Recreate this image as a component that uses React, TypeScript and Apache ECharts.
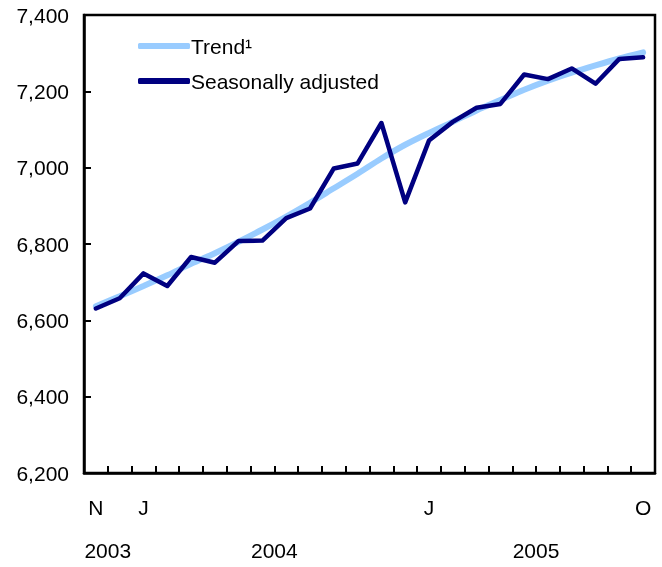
import React, { useEffect, useRef } from "react";
import * as echarts from "echarts";

const months = ["N", "D", "J", "F", "M", "A", "M", "J", "J", "A", "S", "O", "N", "D", "J", "F", "M", "A", "M", "J", "J", "A", "S", "O"];
const monthTickLabels = ["N", "", "J", "", "", "", "", "", "", "", "", "", "", "", "J", "", "", "", "", "", "", "", "", "O"];
const years = ["2003", "2004", "2005"];
const yearSpans = [[0, 1], [2, 13], [14, 23]];
const trend = [6637, 6663, 6690, 6718, 6748, 6776, 6806, 6838, 6872, 6908, 6946, 6984, 7024, 7060, 7091, 7120, 7150, 7177, 7204, 7228, 7249, 7268, 7286, 7302];
const seasonallyAdjusted = [6631, 6658, 6723, 6690, 6766, 6751, 6808, 6809, 6868, 6893, 6998, 7011, 7117, 6909, 7071, 7120, 7157, 7167, 7244, 7232, 7260, 7220, 7285, 7289];
const yTicks = { min: 6200, max: 7400, interval: 200 };

const FONT = "'Liberation Sans', Arial, sans-serif";
const FS = 21;

export default function App() {
  const ref = useRef<HTMLDivElement>(null);
  useEffect(() => {
    if (!ref.current) return;
    const chart = echarts.init(ref.current, null, { renderer: "svg" });
    chart.setOption({
      animation: false,
      textStyle: { fontFamily: FONT },
      grid: { left: 84, right: 7, top: 15, bottom: 94, show: true, borderColor: "#000", borderWidth: 2.5, backgroundColor: "transparent" },
      legend: {
        data: ["Trend¹", "Seasonally adjusted"],
        orient: "vertical",
        left: 133,
        top: 30,
        itemWidth: 52,
        itemHeight: 6,
        itemGap: 13,
        icon: "roundRect",
        textStyle: { fontSize: FS, color: "#000", fontFamily: FONT, lineHeight: 22, padding: [0, 0, 0, -4] },
      },
      xAxis: {
        type: "category",
        data: months,
        boundaryGap: true,
        axisLine: { lineStyle: { color: "#000", width: 2.5 } },
        axisTick: { show: true, inside: true, length: 7, interval: 0, lineStyle: { color: "#000", width: 2 } },
        axisLabel: {
          interval: 0,
          margin: 24,
          fontSize: FS,
          color: "#000",
          fontFamily: FONT,
          formatter: (_v: string, idx: number) => monthTickLabels[idx],
        },
        splitLine: { show: false },
      },
      yAxis: {
        type: "value",
        min: yTicks.min,
        max: yTicks.max,
        interval: yTicks.interval,
        axisLine: { show: true, lineStyle: { color: "#000", width: 2.5 } },
        axisTick: { show: true, inside: true, length: 7, lineStyle: { color: "#000", width: 2 } },
        axisLabel: {
          margin: 15,
          fontSize: FS,
          color: "#000",
          fontFamily: FONT,
          formatter: (v: number) => v.toLocaleString("en-US"),
        },
        splitLine: { show: false },
      },
      series: [
        {
          name: "Trend¹",
          type: "line",
          data: trend,
          symbol: "none",
          smooth: 0.3,
          color: "#99ccff",
          lineStyle: { color: "#99ccff", width: 6, cap: "round" },
          z: 2,
        },
        {
          name: "Seasonally adjusted",
          type: "line",
          data: seasonallyAdjusted,
          symbol: "none",
          color: "#000080",
          lineStyle: { color: "#000080", width: 4.5, cap: "round", join: "round" },
          z: 3,
        },
      ],
    });
    const graphic = years.map((y, i) => {
      const a = chart.convertToPixel({ xAxisIndex: 0 }, yearSpans[i][0]) as number;
      const b = chart.convertToPixel({ xAxisIndex: 0 }, yearSpans[i][1]) as number;
      return {
        type: "text",
        x: (a + b) / 2,
        y: 550,
        style: { text: y, fontSize: FS, fontFamily: FONT, fill: "#000", align: "center", verticalAlign: "middle" },
      };
    });
    chart.setOption({ graphic });
    return () => chart.dispose();
  }, []);
  return <div ref={ref} style={{ position: "fixed", left: 0, top: 0, width: 662, height: 567 }} />;
}
